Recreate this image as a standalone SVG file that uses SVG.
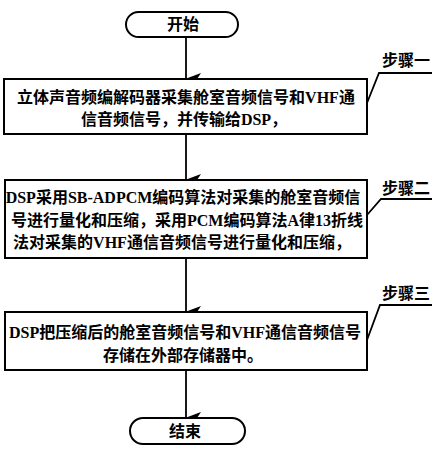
<svg xmlns="http://www.w3.org/2000/svg" width="438" height="450" viewBox="0 0 438 450">
<style>
.box{fill:#fff;stroke:#000;stroke-width:2}
.ln{fill:none;stroke:#000;stroke-width:1.8}
.t{font-family:"Liberation Serif","Noto Sans CJK SC",serif;font-weight:700;font-size:16px;fill:#000;text-anchor:middle}
.s{font-family:"Liberation Serif","Noto Sans CJK SC",serif;font-weight:700;font-size:16px;fill:#000}
</style>
<defs>
<marker id="ah" markerWidth="12" markerHeight="16" refX="6" refY="15" orient="auto-start-reverse" markerUnits="userSpaceOnUse" viewBox="0 0 12 16">
<path d="M0,0 L6,4 L12,0 L6,16 Z" fill="#000"/>
</marker>
</defs>
<rect width="438" height="450" fill="#fff"/>
<g id="connectors">
<line class="ln" x1="186" y1="37" x2="186" y2="79" marker-end="url(#ah)" transform="rotate(0)"/>
<line class="ln" x1="186" y1="134" x2="186" y2="180" marker-end="url(#ah)"/>
<line class="ln" x1="186" y1="258" x2="186" y2="312" marker-end="url(#ah)"/>
<line class="ln" x1="186" y1="370" x2="186" y2="418" marker-end="url(#ah)"/>
<polyline class="ln" points="367,103 379,73 432,73"/>
<polyline class="ln" points="367,215 381,199 432,199"/>
<polyline class="ln" points="367,340 380,305 432,305"/>
</g>
<g id="start">
<rect class="box" x="126" y="12" width="112" height="25" rx="12.5"/>
<text class="t" x="183" y="30">开始</text>
</g>
<g id="step1">
<rect class="box" x="4" y="79" width="363" height="55"/>
<text class="t" x="186" y="103">立体声音频编解码器采集舱室音频信号和VHF通</text>
<text class="t" x="184" y="125">信音频信号，并传输给DSP，</text>
</g>
<g id="step2">
<rect class="box" x="5" y="180" width="362" height="78"/>
<text class="t" x="183" y="203">DSP采用SB-ADPCM编码算法对采集的舱室音频信</text>
<text class="t" x="187" y="226">号进行量化和压缩，采用PCM编码算法A律13折线</text>
<text class="t" x="182" y="248">法对采集的VHF通信音频信号进行量化和压缩，</text>
</g>
<g id="step3">
<rect class="box" x="5" y="312" width="362" height="58"/>
<text class="t" x="185" y="338">DSP把压缩后的舱室音频信号和VHF通信音频信号</text>
<text class="t" x="183" y="361">存储在外部存储器中。</text>
</g>
<g id="end">
<rect class="box" x="130" y="418" width="115" height="26" rx="13"/>
<text class="t" x="185" y="437">结束</text>
</g>
<g id="labels">
<text class="s" x="382" y="66">步骤一</text>
<text class="s" x="382" y="194">步骤二</text>
<text class="s" x="382" y="299">步骤三</text>
</g>
</svg>
